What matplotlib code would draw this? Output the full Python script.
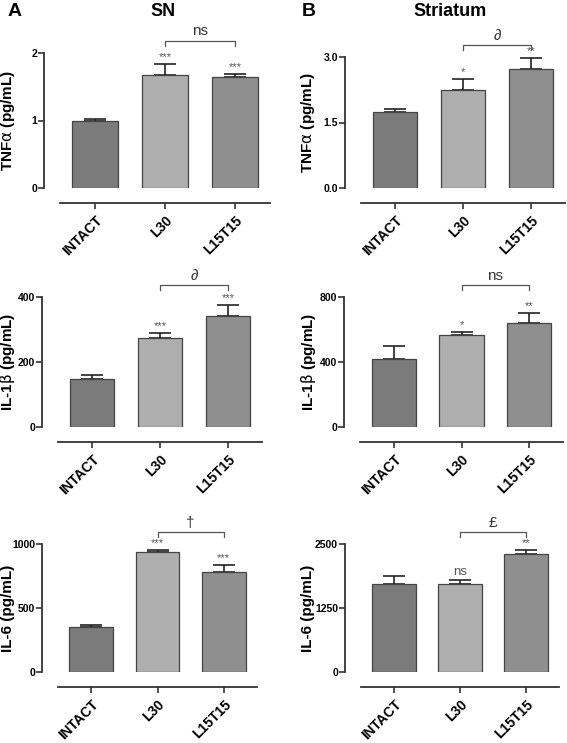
import matplotlib
matplotlib.use("Agg")
import matplotlib.pyplot as plt
from matplotlib.transforms import blended_transform_factory

plt.rcParams["font.family"] = ["Liberation Sans", "DejaVu Sans"]
plt.rcParams["mathtext.fontset"] = "dejavusans"

groups = ["INTACT", "L30", "L15T15"]
colors = ["#7b7b7b", "#aeaeae", "#8f8f8f"]

# SN
sn_tnf = [1.00, 1.68, 1.64]
sn_tnf_err = [0.02, 0.16, 0.05]
sn_il1 = [147, 273, 340]
sn_il1_err = [12, 16, 34]
sn_il6 = [350, 935, 783]
sn_il6_err = [18, 15, 53]

# Striatum
st_tnf = [1.75, 2.25, 2.73]
st_tnf_err = [0.05, 0.24, 0.25]
st_il1 = [420, 565, 643]
st_il1_err = [79, 21, 58]
st_il6 = [1710, 1710, 2298]
st_il6_err = [157, 92, 85]

sn_stars = [["", "***", "***"], ["", "***", "***"], ["", "***", "***"]]
st_stars = [["", "*", "**"], ["", "*", "**"], ["", "ns", "**"]]
sn_brackets = ["ns", "\u2202", "\u2020"]
st_brackets = ["\u2202", "ns", "\u00a3"]

ylabels = [r"TNF$\mathrm{\alpha}$ (pg/mL)", r"IL-1$\mathrm{\beta}$ (pg/mL)", "IL-6 (pg/mL)"]
sn_ticks = [[0, 1, 2], [0, 200, 400], [0, 500, 1000]]
st_ticks = [[0.0, 1.5, 3.0], [0, 400, 800], [0, 1250, 2500]]
st_ticklabels = [["0.0", "1.5", "3.0"], ["0", "400", "800"], ["0", "1250", "2500"]]

W, H = 567, 743
fig = plt.figure(figsize=(W / 100, H / 100), dpi=100)

# axes boxes in pixels: left, right, top, bottom
boxes = {
    (0, 0): (60, 270, 53, 188), (0, 1): (361, 565, 57, 188),
    (1, 0): (58, 262, 297, 427), (1, 1): (360, 563, 297, 427),
    (2, 0): (58, 257, 544, 672), (2, 1): (361, 559, 544, 672),
}
label_x = [8, 308]

def add_ax(box):
    l, r, t, b = box
    return fig.add_axes([l / W, 1 - b / H, (r - l) / W, (b - t) / H])

def draw(ax, vals, errs, ticks, ticklabels, ylabel, stars, bracket, lx):
    for s in ["top", "right"]:
        ax.spines[s].set_visible(False)
    ax.spines["left"].set_position(("outward", 11.5))
    ax.spines["bottom"].set_position(("outward", 10.5))
    for s in ["left", "bottom"]:
        ax.spines[s].set_linewidth(1.3)
        ax.spines[s].set_color("#333333")

    x = range(len(groups))
    ax.bar(x, vals, width=0.66, color=colors, edgecolor="#444444", linewidth=0.9, zorder=2)
    ax.errorbar(x, vals, yerr=[[0] * 3, errs], fmt="none", ecolor="#222222",
                elinewidth=1.2, capsize=8, capthick=1.2, zorder=1)
    top = ticks[-1]
    ax.set_xlim(-0.5, 2.5)
    ax.set_ylim(0, top)
    ax.set_yticks(ticks)
    ax.set_yticklabels(ticklabels, fontsize=7.5, fontweight="bold")
    ax.set_xticks(list(x))
    ax.set_xticklabels(groups, rotation=45, ha="right", rotation_mode="anchor",
                       fontsize=10, fontweight="bold")
    ax.tick_params(axis="both", length=4, width=1.2, color="#333333")
    ax.tick_params(axis="y", pad=1)
    ax.tick_params(axis="x", pad=4)
    ax.set_ylabel(ylabel, fontsize=11, fontweight="bold")
    ax.yaxis.set_label_coords(lx / W, 0.5,
                              transform=blended_transform_factory(fig.transFigure, ax.transAxes))
    ax.yaxis.label.set_va("center")

    for i, st in enumerate(stars):
        if st:
            ax.text(i, vals[i] + errs[i] + top * 0.015, st, ha="center", va="bottom",
                    fontsize=8 if st != "ns" else 9.5, color="#555555")
    yb = top * 1.09
    ax.plot([1, 1, 2, 2], [yb - top * 0.035, yb, yb, yb - top * 0.035],
            color="#555555", lw=0.9, clip_on=False)
    ax.text(1.5, yb + top * 0.02, bracket, ha="center", va="bottom",
            fontsize=11, color="#333333")

sn_data = [(sn_tnf, sn_tnf_err), (sn_il1, sn_il1_err), (sn_il6, sn_il6_err)]
st_data = [(st_tnf, st_tnf_err), (st_il1, st_il1_err), (st_il6, st_il6_err)]

for row in range(3):
    ax = add_ax(boxes[(row, 0)])
    draw(ax, sn_data[row][0], sn_data[row][1], sn_ticks[row],
         [str(t) for t in sn_ticks[row]], ylabels[row], sn_stars[row], sn_brackets[row],
         label_x[0])
    ax = add_ax(boxes[(row, 1)])
    draw(ax, st_data[row][0], st_data[row][1], st_ticks[row],
         st_ticklabels[row], ylabels[row], st_stars[row], st_brackets[row], label_x[1])

fig.text(8 / W, 1 - 11 / H, "A", fontsize=14, fontweight="bold", va="center", ha="left")
fig.text(302 / W, 1 - 11 / H, "B", fontsize=14, fontweight="bold", va="center", ha="left")
fig.text(163 / W, 1 - 11 / H, "SN", fontsize=13, fontweight="bold", va="center", ha="center")
fig.text(450 / W, 1 - 11 / H, "Striatum", fontsize=13, fontweight="bold", va="center", ha="center")

fig.savefig("out.png", dpi=100)
